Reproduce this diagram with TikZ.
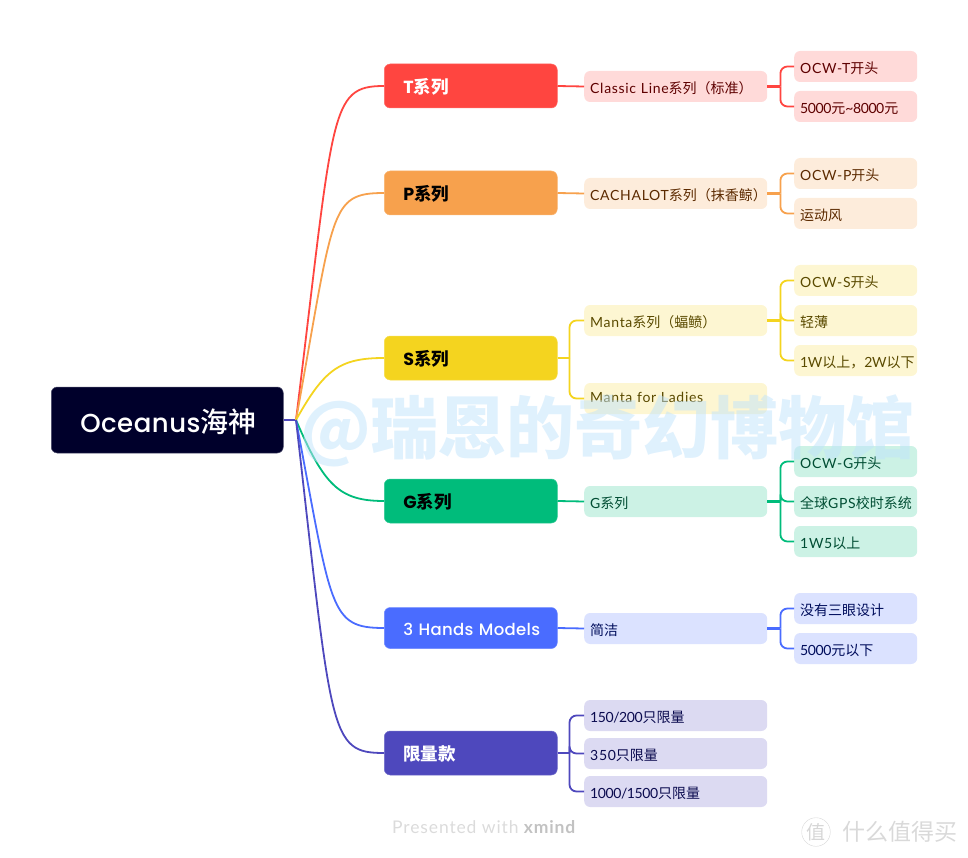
\documentclass[tikz,border=0pt]{standalone}
\usepackage{fontspec}
\setmainfont[LetterSpace=5]{Lato}
\newfontfamily\cjk{Noto Sans CJK SC}
\newfontfamily\cjkmed{Noto Sans CJK SC Medium}
\newfontfamily\headfont{Poppins}
\newfontfamily\medfont[LetterSpace=2]{Poppins Medium}
\newfontfamily\numfont[LetterSpace=-3]{Lato}
\newcommand{\zh}[1]{{\cjk #1}}
\newcommand{\nm}[1]{{\numfont #1}}
\definecolor{colR}{HTML}{00002B}
\definecolor{colT}{HTML}{FF4540}
\definecolor{colP}{HTML}{F7A14D}
\definecolor{colS}{HTML}{F4D41F}
\definecolor{colG}{HTML}{00BC7B}
\definecolor{colH}{HTML}{4A6CFF}
\definecolor{colL}{HTML}{4E48BD}
\definecolor{txtT}{HTML}{5E0000}
\definecolor{txtP}{HTML}{5C2A00}
\definecolor{txtS}{HTML}{5A4A00}
\definecolor{txtG}{HTML}{004D33}
\definecolor{txtH}{HTML}{000D5C}
\definecolor{txtL}{HTML}{0B0B4F}
\definecolor{colMark}{HTML}{C0E3FB}
\tikzset{
	root/.style={rounded corners=6pt, fill=colR, draw=colR!70!white, line width=.5pt, anchor=west, minimum width=232pt, minimum height=66pt, text width=232pt, text height=25pt, text depth=0pt, inner xsep=0pt, inner ysep=0pt, align=left, text=white, font=\fontsize{26}{29}\medfont, execute at begin node=\hspace*{29pt}},
	topic/.style={rounded corners=6pt, fill=col#1, draw=col#1!80!white, line width=.5pt, anchor=west, minimum width=173pt, minimum height=44pt, text width=173pt, text height=15pt, text depth=0pt, inner xsep=0pt, inner ysep=0pt, align=left, font=\fontsize{17.5}{20}\headfont\bfseries, execute at begin node=\hspace*{19pt}},
	subtopic/.style={rounded corners=6pt, fill=col#1!20!white, anchor=west, minimum width=183pt, minimum height=31pt, text width=183pt, text height=14pt, text depth=0pt, inner xsep=0pt, inner ysep=0pt, align=left, text=txt#1, font=\fontsize{14}{16}\selectfont, execute at begin node=\hspace*{6pt}},
	leaf/.style={subtopic=#1, minimum width=123pt, text width=123pt},
	branch/.style={draw=col#1, line width=1.8pt},
	stub/.style={draw=col#1, line width=2.8pt},
}
\begin{document}
\begin{tikzpicture}[x=1pt, y=-1pt]
	\useasboundingbox (0,0) rectangle (968,858);

	\node[root] (R) at (51,420) {Oceanus{\fontsize{28}{29}\cjkmed 海神}};
	\coordinate (hub) at (296,420);

	% first level
	\node[topic=T, text=white] (T) at (384,86) {T\zh{系列}};
	\node[topic=P, text=black] (P) at (384,193) {P\zh{系列}};
	\node[topic=S, text=black] (S) at (384,358) {S\zh{系列}};
	\node[topic=G, text=black] (G) at (384,501) {G\zh{系列}};
	\node[topic=H, text=white, minimum height=41pt, text height=14pt, font=\fontsize{16.5}{20}\medfont] (H) at (384,628) {3 Hands Models};
	\node[topic=L, text=white] (L) at (384,753) {\zh{限量款}};

	% second level
	\node[subtopic=T] (T1) at (584,86.5) {Classic Line\zh{系列（标准）}};
	\node[subtopic=P] (P1) at (584,193.5) {CACHALOT\zh{系列（抹香鲸）}};
	\node[subtopic=S] (S1) at (584,320.5) {Manta\zh{系列（蝠鲼）}};
	\node[subtopic=S, text height=8pt] (S2) at (584,398.5) {Manta for Ladies};
	\node[subtopic=G] (G1) at (584,501.5) {G\zh{系列}};
	\node[subtopic=H] (H1) at (584,628.5) {\zh{简洁}};
	\node[subtopic=L] (L1) at (584,715.5) {\nm{150/200}\zh{只限量}};
	\node[subtopic=L] (L2) at (584,753.5) {350\zh{只限量}};
	\node[subtopic=L] (L3) at (584,791.5) {\nm{1000/1500}\zh{只限量}};

	% third level
	\node[leaf=T] (T11) at (794,66.5) {OCW-T\zh{开头}};
	\node[leaf=T] (T12) at (794,106.5) {\nm{5000}\zh{元}\nm{\textasciitilde8000}\zh{元}};
	\node[leaf=P] (P11) at (794,173.5) {OCW-P\zh{开头}};
	\node[leaf=P] (P12) at (794,213.5) {\zh{运动风}};
	\node[leaf=S] (S11) at (794,280.5) {OCW-S\zh{开头}};
	\node[leaf=S] (S12) at (794,320.5) {\zh{轻薄}};
	\node[leaf=S] (S13) at (794,360.5) {\nm{1W}\zh{以上，}\nm{2W}\zh{以下}};
	\node[leaf=G] (G11) at (794,461.5) {OCW-G\zh{开头}};
	\node[leaf=G] (G12) at (794,501.5) {\zh{全球}GPS\zh{校时系统}};
	\node[leaf=G] (G13) at (794,541.5) {1W5\zh{以上}};
	\node[leaf=H] (H11) at (794,608.5) {\zh{没有三眼设计}};
	\node[leaf=H] (H12) at (794,648.5) {\nm{5000}\zh{元以下}};

	% root to first level
	\draw[branch=L] (R.east) -- (hub);
	\draw[branch=T] (hub) .. controls +(38,-310) and +(-55,0) .. (T.west);
	\draw[branch=P] (hub) .. controls +(38,-210) and +(-55,0) .. (P.west);
	\draw[branch=S] (hub) .. controls +(28,-50) and +(-45,0) .. (S.west);
	\draw[branch=G] (hub) .. controls +(28,65) and +(-45,0) .. (G.west);
	\draw[branch=H] (hub) .. controls +(36,190) and +(-55,0) .. (H.west);
	\draw[branch=L] (hub) .. controls +(36,315) and +(-55,0) .. (L.west);

	% first level to second level
	\draw[branch=T] (T.east) -- (T1.west);
	\draw[branch=P] (P.east) -- (P1.west);
	\draw[branch=G] (G.east) -- (G1.west);
	\draw[branch=H] (H.east) -- (H1.west);
	\draw[stub=S] (S.east) -- ++(12,0);
	\draw[stub=L] (L.east) -- ++(12,0);
	\foreach \a in {S1,S2}
		\draw[branch=S, rounded corners=7pt] (S.east) ++(12,0) |- (\a.west);
	\foreach \a in {L1,L2,L3}
		\draw[branch=L, rounded corners=7pt] (L.east) ++(12,0) |- (\a.west);

	% second level to third level
	\foreach \c/\a/\b in {T/T1/T11, T/T1/T12, P/P1/P11, P/P1/P12, S/S1/S11, S/S1/S12, S/S1/S13, G/G1/G11, G/G1/G12, G/G1/G13, H/H1/H11, H/H1/H12}
		\draw[branch=\c, rounded corners=7pt] (\a.east) ++(13,0) |- (\b.west);
	\foreach \c/\a in {T/T1, P/P1, S/S1, G/G1, H/H1}
		\draw[stub=\c] (\a.east) -- ++(13,0);

	% marks on top
	\node[anchor=west, inner sep=0pt, text=colMark, text opacity=.5, font=\fontsize{68}{70}\cjk\bfseries] (mark) at (300,431) {@瑞恩的奇幻博物馆};
	\node[anchor=west, inner sep=0pt, text=black!14, font=\fontsize{17.5}{20}\selectfont] (credit) at (392,827) {Presented with \textcolor{black!24}{\bfseries xmind}};
	\node[circle, draw=black!16, inner sep=1pt, text=black!16, font=\fontsize{19}{20}\cjk] (logo) at (816,832) {值};
	\node[anchor=west, inner sep=0pt, text=black!15, font=\fontsize{23}{25}\cjk] (site) at (842,832) {什么值得买};
\end{tikzpicture}
\end{document}
